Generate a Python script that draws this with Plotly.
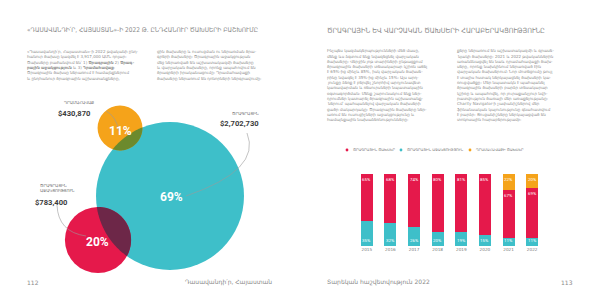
import numpy as np
import plotly.graph_objects as go

# ---------------- data ----------------
years = ["2015", "2016", "2017", "2018", "2019", "2020", "2021", "2022"]
program_pct = [65, 68, 74, 80, 81, 85, 67, 69]        # red
support_pct = [35, 32, 26, 20, 19, 15, 11, 11]        # teal
fundraising_pct = [0, 0, 0, 0, 0, 0, 22, 20]          # orange

bubble_names = ["ԾՐԱԳՐԱՅԻՆ", "ԾՐԱԳՐԱՅԻՆ<br>ԱՋԱԿՑՈՒԹՅՈՒՆ", "ԴՐԱՄԱՀԱՎԱՔ"]
bubble_values = [2702730, 783400, 430870]
bubble_pcts = ["69%", "20%", "11%"]

legend_names = ["ԾՐԱԳՐԱՅԻՆ ԾԱԽՍԵՐ", "ԾՐԱԳՐԱՅԻՆ ԱՋԱԿՑՈՒԹՅՈՒՆ", "ԴՐԱՄԱՀԱՎԱՔԻ ԾԱԽՍԵՐ"]

title_left = "«ԴԱՍԱՎԱՆԴԻ՛Ր, ՀԱՅԱՍՏԱՆ»-Ի 2022 Թ. ԸՆԴՀԱՆՈՒՐ ԾԱԽՍԵՐԻ ԲԱՇԽՈՒՄԸ"
title_right = "ԾՐԱԳՐԱՅԻՆ ԵՎ ՎԱՐՉԱԿԱՆ ԾԱԽՍԵՐԻ ՀԱՐԱԲԵՐԱԿՑՈՒԹՅՈՒՆԸ"

lp_col1 = [
    "«Դասավանդի՛ր, Հայաստան»-ի 2022 թվականի ընդ-",
    "հանուր ծախսը կազմել է 3,917,000 ԱՄՆ դոլար:",
    "Ծախսերը բաժանվում են՝ 1) <b>Ծրագրային</b> 2) <b>Ծրագ-</b>",
    "<b>րային աջակցություն</b> և 3) <b>Դրամահավաք</b>:",
    "Ծրագրային ծախսը ներառում է համայնքներում",
    "և ընդհանուր ծրագրային աշխատանքները,",
]
lp_col2 = [
    "ցին ծախսերը և ուսուցման ու ներառման ծրա-",
    "գրերի ծախսերը: Ծրագրային աջակցության",
    "մեջ ներառված են աշխատակազմի ծախսերը",
    "և վարչական ծախսերը, որոնք ապահովում են",
    "ծրագրերի իրականացումը: Դրամահավաքի",
    "ծախսերը ներառում են դոնորների ներգրավումը:",
]
rp_col1 = [
    "Ինչպես կազմակերպությունների մեծ մասը,",
    "մենք ևս ձգտում ենք նվազեցնել վարչական",
    "ծախսերը: Վերջին յոթ տարիների ընթացքում",
    "ծրագրային ծախսերի տեսակարար կշիռն աճել",
    "է 65%-ից մինչև 85%, իսկ վարչական ծախսե-",
    "րինը նվազել է 35%-ից մինչև 15%: Այս արդ-",
    "յունքը ձեռք է բերվել շնորհիվ արդյունավետ",
    "կառավարման և ռեսուրսների նպատակային",
    "օգտագործման: Մենք շարունակում ենք ներ-",
    "դրումներ կատարել ծրագրային աշխատանք-",
    "ներում՝ պահպանելով վարչական ծախսերի",
    "ցածր մակարդակը: Ծրագրային ծախսերը ներ-",
    "առում են ուսուցիչների աջակցությունը և",
    "համայնքային նախաձեռնությունները:",
]
rp_col2 = [
    "քերը ներառում են աշխատակազմի և գրասե-",
    "նյակի ծախսերը: 2021 և 2022 թվականներին",
    "առանձնացվել են նաև դրամահավաքի ծախ-",
    "սերը, որոնք նախկինում ներառված էին",
    "վարչական ծախսերում: Նոր մոտեցումը թույլ",
    "է տալիս հստակ ներկայացնել ծախսերի կա-",
    "ռուցվածքը: Մեր նպատակն է պահպանել",
    "ծրագրային ծախսերի բարձր տեսակարար",
    "կշիռը և ապահովել, որ յուրաքանչյուր նվի-",
    "րատվություն ծառայի մեր առաքելությանը:",
    "Charity Navigator-ի չափանիշներով մեր",
    "ֆինանսական կայունությունը գնահատվում",
    "է բարձր: Ցուցանիշները ներկայացված են",
    "տոկոսային հարաբերությամբ:",
]

# ---------------- style ----------------
RED = "#e5194b"
TEAL = "#3ebfc9"
ORANGE = "#f5a31a"
GRAY_TXT = "#8d8d8d"
DARK = "#3b3b3b"
BODY_FONT = "DejaVu Sans"
TITLE_FONT = "DejaVu Sans Condensed, DejaVu Sans"
NUM_FONT = "Liberation Sans Narrow, Roboto, Liberation Sans"

xnum = [int(y) for y in years]

fig = go.Figure()

# ---------- stacked bars ----------
fig.add_trace(go.Bar(x=xnum, y=support_pct, marker_color=TEAL, xaxis="x2", yaxis="y2",
                     name=legend_names[1], hoverinfo="skip", marker_line_width=0))
fig.add_trace(go.Bar(x=xnum, y=program_pct, marker_color=RED, xaxis="x2", yaxis="y2",
                     name=legend_names[0], hoverinfo="skip", marker_line_width=0))
fig.add_trace(go.Bar(x=xnum, y=fundraising_pct, marker_color=ORANGE, xaxis="x2", yaxis="y2",
                     name=legend_names[2], hoverinfo="skip", marker_line_width=0))

annotations = []
bar_lbl = dict(size=4.4, color="white", family=NUM_FONT)
for yr, s, p, f in zip(xnum, support_pct, program_pct, fundraising_pct):
    annotations.append(dict(x=yr, y=0, xref="x2", yref="y2", text=f"{s}%", showarrow=False,
                            yanchor="bottom", yshift=1, font=bar_lbl))
    annotations.append(dict(x=yr, y=s + p, xref="x2", yref="y2", text=f"{p}%", showarrow=False,
                            yanchor="top", yshift=-1, font=bar_lbl))
    if f > 0:
        annotations.append(dict(x=yr, y=s + p + f, xref="x2", yref="y2", text=f"{f}%",
                                showarrow=False, yanchor="top", yshift=-1, font=bar_lbl))

# ---------- bubbles ----------
vmax = max(bubble_values)
R_MAX = 74
radii = [R_MAX * (v / vmax) ** 0.65 for v in bubble_values]
centers = [(170, 196), (98, 240), (120, 128)]
bcolors = [TEAL, RED, ORANGE]

shapes = []
for (cx, cy), r, col in zip(centers, radii, bcolors):
    shapes.append(dict(type="circle", xref="x", yref="y", x0=cx - r, x1=cx + r,
                       y0=cy - r, y1=cy + r, fillcolor=col, line=dict(width=0), layer="above"))


def lens_path(c1, r1, c2, r2, n=40):
    dx, dy = c2[0] - c1[0], c2[1] - c1[1]
    d = np.hypot(dx, dy)
    a = (r1 ** 2 - r2 ** 2 + d ** 2) / (2 * d)
    th = np.arctan2(dy, dx)
    al1 = np.arccos(np.clip(a / r1, -1, 1))
    al2 = np.arccos(np.clip((d - a) / r2, -1, 1))
    t1 = np.linspace(th - al1, th + al1, n)
    t2 = np.linspace(th + np.pi - al2, th + np.pi + al2, n)
    pts = [(c1[0] + r1 * np.cos(t), c1[1] + r1 * np.sin(t)) for t in t1]
    pts += [(c2[0] + r2 * np.cos(t), c2[1] + r2 * np.sin(t)) for t in t2]
    return "M " + " L ".join(f"{x:.2f},{y:.2f}" for x, y in pts) + " Z"


lens_colors = ["#6d2748", "#6c8a2d"]
for i, lc in zip([1, 2], lens_colors):
    shapes.append(dict(type="path", xref="x", yref="y",
                       path=lens_path(centers[0], radii[0], centers[i], radii[i]),
                       fillcolor=lc, line=dict(width=0), layer="above"))

# leader lines
leader = dict(color="#9a9a9a", width=0.6)
shapes.append(dict(type="path", xref="x", yref="y", path="M 106,111 Q 116,116 119,131",
                   line=leader, layer="above"))
shapes.append(dict(type="path", xref="x", yref="y", path="M 247,133 Q 262,170 186,196",
                   line=leader, layer="above"))
shapes.append(dict(type="path", xref="x", yref="y", path="M 57,205 Q 58,232 86,236",
                   line=leader, layer="above"))

# bubble labels
pct_font = dict(size=12, color="white", family=NUM_FONT)
pct_pos = [(171, 197), (97, 242), (120, 131)]
for (px, py), t in zip(pct_pos, bubble_pcts):
    annotations.append(dict(x=px, y=py, xref="x", yref="y", text=f"<b>{t}</b>",
                            showarrow=False, font=pct_font))

small_font = dict(size=4.0, color="#6f6f6f", family=BODY_FONT)
val_font = dict(size=7.6, color=DARK, family=NUM_FONT)
# program (teal) - right aligned
annotations.append(dict(x=261, y=113, xref="x", yref="y", text=bubble_names[0], showarrow=False,
                        xanchor="right", font=small_font))
annotations.append(dict(x=261, y=123, xref="x", yref="y", text=f"<b>${bubble_values[0]:,}</b>",
                        showarrow=False, xanchor="right", font=val_font))
# support (red)
annotations.append(dict(x=38, y=188, xref="x", yref="y", text=bubble_names[1], showarrow=False,
                        xanchor="left", font=small_font, align="left"))
annotations.append(dict(x=69, y=202, xref="x", yref="y", text=f"<b>${bubble_values[1]:,}</b>",
                        showarrow=False, xanchor="right", font=val_font))
# fundraising (orange)
annotations.append(dict(x=62, y=102, xref="x", yref="y", text=bubble_names[2], showarrow=False,
                        xanchor="left", font=small_font))
annotations.append(dict(x=92, y=113, xref="x", yref="y", text=f"<b>${bubble_values[2]:,}</b>",
                        showarrow=False, xanchor="right", font=val_font))

# ---------- legend (custom) ----------
leg_x = [347, 401, 470]
leg_cols = [RED, TEAL, ORANGE]
for lx, lc, ln in zip(leg_x, leg_cols, legend_names):
    shapes.append(dict(type="circle", xref="x", yref="y", x0=lx - 1.4, x1=lx + 1.4,
                       y0=150 - 1.4, y1=150 + 1.4, fillcolor=lc, line=dict(width=0)))
    annotations.append(dict(x=lx + 4, y=150, xref="x", yref="y", text=ln, showarrow=False,
                            xanchor="left", font=dict(size=3.6, color="#6f6f6f", family=BODY_FONT)))

# ---------- titles ----------
annotations.append(dict(x=25, y=30, xref="x", yref="y", text=title_left, showarrow=False,
                        xanchor="left", font=dict(size=6.5, color="#8a8a8a", family=TITLE_FONT)))
annotations.append(dict(x=325, y=30, xref="x", yref="y", text=title_right, showarrow=False,
                        xanchor="left", font=dict(size=7.2, color="#8a8a8a", family=TITLE_FONT)))

# ---------- body text ----------
body_font = dict(size=4.0, color=GRAY_TXT, family=BODY_FONT)


def add_col(lines, x0, y0, step=5.3):
    for i, ln in enumerate(lines):
        annotations.append(dict(x=x0, y=y0 + i * step, xref="x", yref="y", text=ln,
                                showarrow=False, xanchor="left", font=body_font))


add_col(lp_col1, 25, 51.5)
add_col(lp_col2, 155, 51.5)
add_col(rp_col1, 325, 50.7)
add_col(rp_col2, 455, 50.7)

# ---------- footers ----------
foot_font = dict(size=6, color="#8a8a8a", family=BODY_FONT)
annotations.append(dict(x=25, y=282, xref="x", yref="y", text="112", showarrow=False,
                        xanchor="left", font=foot_font))
annotations.append(dict(x=274, y=282, xref="x", yref="y", text="Դասավանդի՛ր, Հայաստան",
                        showarrow=False, xanchor="right", font=foot_font))
annotations.append(dict(x=325, y=282, xref="x", yref="y", text="Տարեկան հաշվետվություն 2022",
                        showarrow=False, xanchor="left", font=foot_font))
annotations.append(dict(x=575, y=282, xref="x", yref="y", text="113", showarrow=False,
                        xanchor="right", font=foot_font))

fig.update_layout(
    width=600, height=300,
    margin=dict(l=0, r=0, t=0, b=0),
    paper_bgcolor="white", plot_bgcolor="rgba(0,0,0,0)",
    showlegend=False,
    barmode="stack", bargap=0.49,
    xaxis=dict(domain=[0, 1], range=[0, 600], visible=False, fixedrange=True),
    yaxis=dict(domain=[0, 1], range=[300, 0], visible=False, fixedrange=True),
    xaxis2=dict(domain=[355 / 600, 544 / 600], anchor="y2", showgrid=False, zeroline=False,
                showline=False, ticks="", range=[xnum[0] - 0.5, xnum[-1] + 0.5],
                tickmode="array", tickvals=xnum, ticktext=years,
                tickfont=dict(size=4.2, color="#7a7a7a", family=BODY_FONT)),
    yaxis2=dict(domain=[(300 - 246) / 300, (300 - 174) / 300], range=[0, 100], anchor="x2",
                visible=False),
    shapes=shapes,
    annotations=annotations,
)

fig.write_html("out.html")
